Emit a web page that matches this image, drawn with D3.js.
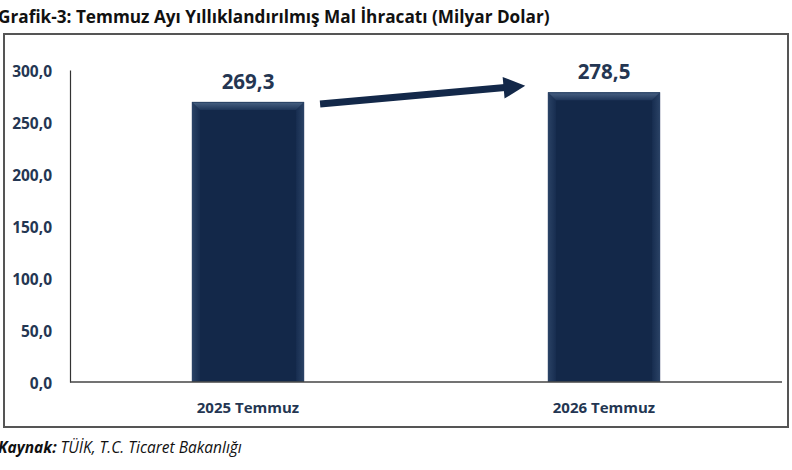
<!DOCTYPE html>
<html>
<head>
<meta charset="utf-8">
<script src="https://cdn.jsdelivr.net/npm/d3@7"></script>
<style>
  body { margin: 0; background: #fff; }
  svg { display: block; }
</style>
</head>
<body>
<div id="chart"></div>
<script>
const categories = ["2025 Temmuz", "2026 Temmuz"];
const values = [269.3, 278.5];
const yTicks = [0, 50, 100, 150, 200, 250, 300];
const titleText = "Grafik-3: Temmuz Ayı Yıllıklandırılmış Mal İhracatı (Milyar Dolar)";

const width = 792, height = 470;
const margin = {top: 70, right: 10, bottom: 88, left: 70};
const font = "'Open Sans', sans-serif";
const navy = "#132849";
const textColor = "#243652";

let svg = d3.select("#chart").append("svg")
  .attr("width", width)
  .attr("height", height);

// outer frame
svg.append("rect")
  .attr("x", 4).attr("y", 34)
  .attr("width", 784).attr("height", 393)
  .attr("fill", "#fff")
  .attr("stroke", "#555")
  .attr("stroke-width", 2);

svg.append("text")
  .attr("x", -2).attr("y", 23)
  .attr("font-family", font)
  .attr("font-weight", "bold")
  .attr("font-size", 17.2)
  .attr("fill", "#111")
  .text(titleText);

let source = svg.append("text")
  .attr("x", -2).attr("y", 453)
  .attr("font-family", font)
  .attr("font-style", "italic")
  .attr("font-size", 15.5)
  .attr("fill", "#111");
source.append("tspan").attr("font-weight", "bold").text("Kaynak:");
source.append("tspan").text(" TÜİK, T.C. Ticaret Bakanlığı");

let xScale = d3.scaleBand()
  .domain(categories)
  .range([margin.left, width - margin.right])
  .paddingInner(0.685)
  .paddingOuter(0.3425);

let yScale = d3.scaleLinear()
  .domain([0, 300])
  .range([height - margin.bottom, margin.top]);

// y axis
let yAxis = svg.append("g")
  .attr("transform", "translate(" + margin.left + ",0)")
  .call(d3.axisLeft(yScale).tickValues(yTicks).tickSize(0).tickPadding(18)
    .tickFormat(d => d3.format(".1f")(d).replace(".", ",")));
yAxis.select(".domain").attr("stroke", "#333").attr("stroke-width", 1.2);
yAxis.selectAll("text")
  .attr("font-family", font)
  .attr("font-weight", "bold")
  .attr("font-size", 15.5)
  .attr("fill", textColor)
  .attr("dy", "0.45em");

// bar gradients
let defs = svg.append("defs");
let topGrad = defs.append("linearGradient")
  .attr("id", "topBevel").attr("x1", 0).attr("y1", 0).attr("x2", 0).attr("y2", 1);
topGrad.append("stop").attr("offset", "0%").attr("stop-color", "#4a6384");
topGrad.append("stop").attr("offset", "100%").attr("stop-color", "#1e3558");
let leftGrad = defs.append("linearGradient")
  .attr("id", "leftBevel").attr("x1", 0).attr("y1", 0).attr("x2", 1).attr("y2", 0);
leftGrad.append("stop").attr("offset", "0%").attr("stop-color", "#2a4265");
leftGrad.append("stop").attr("offset", "100%").attr("stop-color", "#172d50");
let rightGrad = defs.append("linearGradient")
  .attr("id", "rightBevel").attr("x1", 1).attr("y1", 0).attr("x2", 0).attr("y2", 0);
rightGrad.append("stop").attr("offset", "0%").attr("stop-color", "#2a4265");
rightGrad.append("stop").attr("offset", "100%").attr("stop-color", "#172d50");

// bars with bevel
let bars = svg.append("g").selectAll("g.bar")
  .data(categories.map((c, i) => ({cat: c, value: values[i]})))
  .enter().append("g").attr("class", "bar");

const bev = 8;
bars.each(function(d) {
  let g = d3.select(this);
  let x0 = xScale(d.cat), x1 = x0 + xScale.bandwidth();
  let y0 = yScale(d.value), y1 = yScale(0);
  g.append("rect")
    .attr("x", x0).attr("y", y0)
    .attr("width", x1 - x0).attr("height", y1 - y0)
    .attr("fill", navy);
  g.append("polygon")
    .attr("points", [[x0, y0], [x0 + bev, y0 + bev], [x0 + bev, y1], [x0, y1]].join(" "))
    .attr("fill", "url(#leftBevel)");
  g.append("polygon")
    .attr("points", [[x1, y0], [x1 - bev, y0 + bev], [x1 - bev, y1], [x1, y1]].join(" "))
    .attr("fill", "url(#rightBevel)");
  g.append("polygon")
    .attr("points", [[x0, y0], [x1, y0], [x1 - bev, y0 + bev], [x0 + bev, y0 + bev]].join(" "))
    .attr("fill", "url(#topBevel)");
  g.append("rect")
    .attr("x", x0 + 0.5).attr("y", y0 + 0.5)
    .attr("width", x1 - x0 - 1).attr("height", y1 - y0 - 1)
    .attr("fill", "none")
    .attr("stroke", "#2b4366")
    .attr("stroke-width", 1);
});

bars.append("text")
  .attr("x", d => xScale(d.cat) + xScale.bandwidth() / 2)
  .attr("y", d => yScale(d.value) - 13)
  .attr("text-anchor", "middle")
  .attr("font-family", font)
  .attr("font-weight", "bold")
  .attr("font-size", 20.5)
  .attr("fill", textColor)
  .text(d => d3.format(".1f")(d.value).replace(".", ","));

// x axis baseline
svg.append("line")
  .attr("x1", margin.left).attr("x2", width - margin.right)
  .attr("y1", yScale(0)).attr("y2", yScale(0))
  .attr("stroke", "#444").attr("stroke-width", 1.5);

svg.append("g").selectAll("text")
  .data(categories)
  .enter().append("text")
  .attr("x", d => xScale(d) + xScale.bandwidth() / 2)
  .attr("y", yScale(0) + 31)
  .attr("text-anchor", "middle")
  .attr("font-family", font)
  .attr("font-weight", "bold")
  .attr("font-size", 15)
  .attr("fill", textColor)
  .text(d => d);

// arrow between bars
defs.append("marker")
  .attr("id", "head")
  .attr("viewBox", "0 0 10 10")
  .attr("refX", 2).attr("refY", 5)
  .attr("markerWidth", 3.6).attr("markerHeight", 3.1)
  .attr("orient", "auto")
  .append("path")
  .attr("d", "M0,0 L10,5 L0,10 Z")
  .attr("fill", navy);

let ax0 = xScale(categories[0]) + xScale.bandwidth() + 16;
let ay0 = yScale(values[0]) + 2;
let ax1 = xScale(categories[1]) - 40;
let ay1 = yScale(values[1]) - 5;
svg.append("line")
  .attr("x1", ax0).attr("y1", ay0)
  .attr("x2", ax1).attr("y2", ay1)
  .attr("stroke", navy)
  .attr("stroke-width", 7)
  .attr("marker-end", "url(#head)");
</script>
</body>
</html>
